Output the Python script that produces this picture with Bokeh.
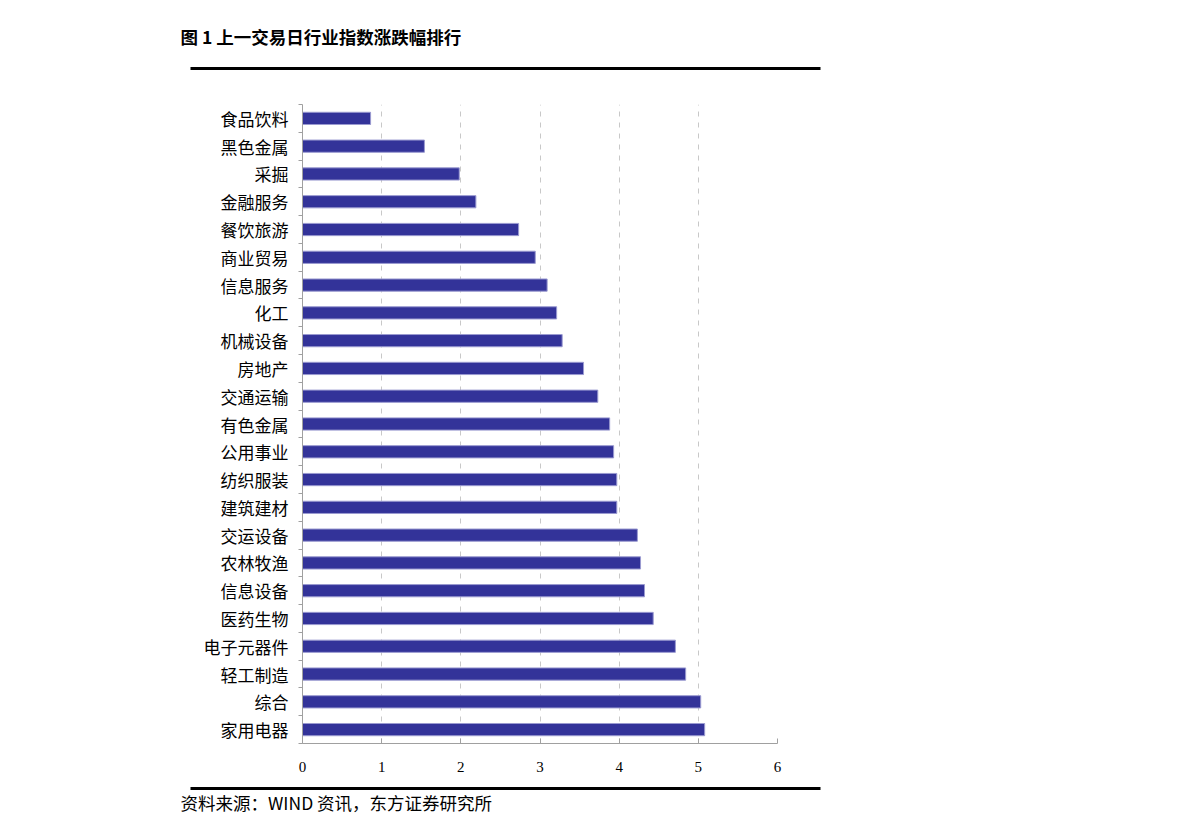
from bokeh.plotting import figure
from bokeh.models import Range1d, FixedTicker, ColumnDataSource
from bokeh.layouts import column
from bokeh.core.properties import value
from bokeh.embed import file_html
from bokeh.resources import INLINE

categories = ["食品饮料", "黑色金属", "采掘", "金融服务", "餐饮旅游", "商业贸易", "信息服务",
              "化工", "机械设备", "房地产", "交通运输", "有色金属", "公用事业", "纺织服装",
              "建筑建材", "交运设备", "农林牧渔", "信息设备", "医药生物", "电子元器件",
              "轻工制造", "综合", "家用电器"]
values = [0.86, 1.54, 1.98, 2.19, 2.73, 2.94, 3.09, 3.21, 3.28, 3.55, 3.73, 3.88, 3.93,
          3.97, 3.97, 4.23, 4.27, 4.32, 4.43, 4.71, 4.84, 5.03, 5.08]
x_ticks = [0, 1, 2, 3, 4, 5, 6]
title_text = "图 1  上一交易日行业指数涨跌幅排行"
source_text = "资料来源：WIND 资讯，东方证券研究所"

n = len(categories)
ypos = [n - i - 0.5 for i in range(n)]
src = ColumnDataSource(dict(y=ypos, v=values, cat=categories))

W = 1191
L, R, T, B = 302, 777, 104, 743
TOP_H = 104
BOT_START = 780
BOT_H = 832 - BOT_START


def blank(height):
    f = figure(width=W, height=height, output_backend="svg", toolbar_location=None,
               x_range=Range1d(0, W), y_range=Range1d(height, 0),
               min_border=0, min_border_left=0, min_border_right=0,
               min_border_top=0, min_border_bottom=0, frame_align=False)
    f.axis.visible = False
    f.grid.visible = False
    f.outline_line_color = None
    return f


# top strip: title + thick rule
top = blank(TOP_H)
top.text(x=[180], y=[36], text=[title_text], text_font=value("Noto Sans CJK SC"),
         text_font_style="bold", text_font_size="17.5px", text_baseline="middle",
         text_align="left", text_color="black")
top.segment(x0=[190], y0=[68], x1=[820], y1=[68], line_color="black", line_width=3)

# main chart
p = figure(width=W, height=BOT_START - TOP_H, output_backend="svg", toolbar_location=None,
           x_range=Range1d(0, 6), y_range=Range1d(0, n),
           min_border_left=L, min_border_right=W - R, min_border_top=0,
           min_border_bottom=BOT_START - B, frame_align=False)
p.outline_line_color = None

p.hbar(y="y", right="v", left=0, height=0.44, source=src,
       fill_color="#333399", line_color="#9a9ad0", line_width=1)

xa = p.xaxis[0]
xa.ticker = FixedTicker(ticks=x_ticks)
xa.axis_line_color = "#a0a0a0"
xa.major_tick_line_color = "#a0a0a0"
xa.major_tick_in = 5
xa.major_tick_out = 0
xa.minor_tick_line_color = None
xa.major_label_standoff = 18
xa.major_label_text_font = "Liberation Serif"
xa.major_label_text_font_size = "15px"
xa.major_label_text_color = "black"

ya = p.yaxis[0]
ya.ticker = FixedTicker(ticks=ypos, minor_ticks=list(range(0, n + 1)))
ya.major_label_overrides = {y: c for y, c in zip(ypos, categories)}
ya.axis_line_color = "#a0a0a0"
ya.major_tick_line_color = None
ya.major_tick_in = 0
ya.major_tick_out = 0
ya.minor_tick_line_color = "#a0a0a0"
ya.minor_tick_out = 4
ya.minor_tick_in = 0
ya.major_label_standoff = 10
ya.major_label_text_font = "Noto Sans CJK SC"
ya.major_label_text_font_size = "17px"
ya.major_label_text_color = "black"

p.xgrid.ticker = FixedTicker(ticks=x_ticks[1:])
p.xgrid.grid_line_color = "#c8c8c8"
p.xgrid.grid_line_dash = "5 6"
p.ygrid.grid_line_color = None

# bottom strip: thick rule + source
bot = blank(BOT_H)
bot.segment(x0=[190], y0=[788 - BOT_START], x1=[820], y1=[788 - BOT_START],
            line_color="black", line_width=3)
bot.text(x=[180], y=[802 - BOT_START], text=[source_text], text_font=value("Noto Sans CJK SC"),
         text_font_size="17.5px", text_baseline="middle", text_align="left", text_color="black")

layout = column(top, p, bot, spacing=0)
open("out.html", "w").write(file_html(layout, INLINE))
